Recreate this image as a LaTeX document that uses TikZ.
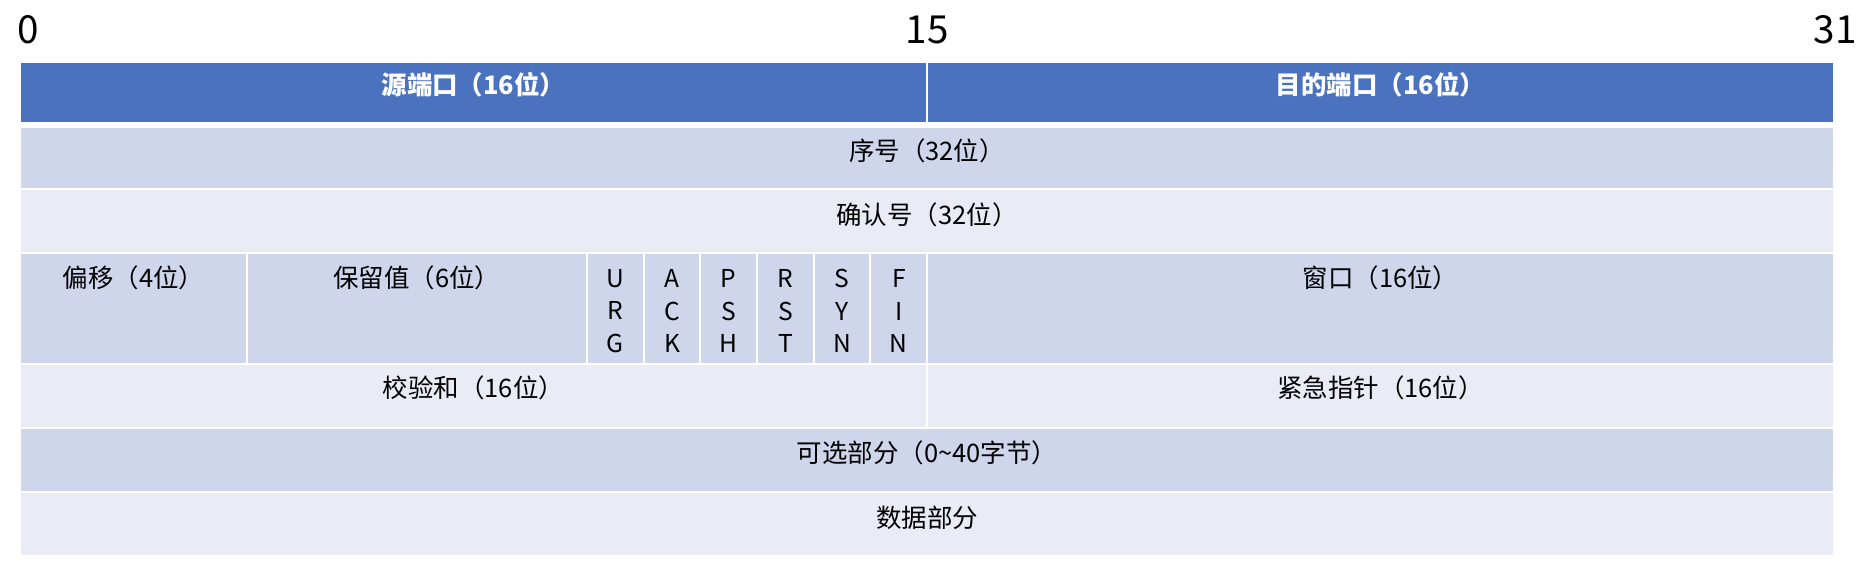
\documentclass[tikz,border=0pt]{standalone}
\usepackage{fontspec}
\newfontfamily\cjk{Noto Sans CJK SC}
\definecolor{hdrblue}{HTML}{4A72BE}
\definecolor{banddark}{HTML}{CFD5EA}
\definecolor{bandlight}{HTML}{E9EBF5}

\begin{document}
\begin{tikzpicture}[
    x=0.02cm, y=-0.02cm,
    cell/.style={draw=white, line width=0.04cm},
    hdrcell/.style={cell, fill=hdrblue},
    darkcell/.style={cell, fill=banddark},
    lightcell/.style={cell, fill=bandlight},
    field/.style={font=\cjk\fontsize{14.5}{17}\selectfont, inner sep=0pt},
    hdrfield/.style={field, text=white, font=\cjk\bfseries\fontsize{14.5}{17}\selectfont},
    flag/.style={field, align=center, font=\cjk\fontsize{14}{18.5}\selectfont},
    bitno/.style={font=\cjk\fontsize{22}{26}\selectfont, inner sep=0pt}
]
    \useasboundingbox (0,0) rectangle (1866,584);

    % bit numbers
    \node[bitno, anchor=west] (b0) at (17,30) {0};
    \node[bitno] (b15) at (927,30) {15};
    \node[bitno, anchor=east] (b31) at (1857,30) {31};

    % header row
    \path[hdrcell] (20,62) rectangle (927,125);
    \path[hdrcell] (927,62) rectangle (1834,125);
    % full-width rows
    \path[darkcell] (20,125) rectangle (1834,189);
    \path[lightcell] (20,189) rectangle (1834,253);
    % offset, reserved, flags, window
    \path[darkcell] (20,253) rectangle (246.75,364);
    \path[darkcell] (246.75,253) rectangle (587,364);
    \foreach \i in {0,...,5}
        \path[darkcell] (587+\i*56.69,253) rectangle (587+\i*56.69+56.69,364);
    \path[darkcell] (927,253) rectangle (1834,364);
    % checksum, urgent pointer
    \path[lightcell] (20,364) rectangle (927,428);
    \path[lightcell] (927,364) rectangle (1834,428);
    \path[darkcell] (20,428) rectangle (1834,492);
    \path[lightcell] (20,492) rectangle (1834,556);
    \draw[white, line width=0.12cm] (20,125) -- (1834,125);

    % labels
    \node[hdrfield] (src) at (473.5,85) {源端口（16位）};
    \node[hdrfield] (dst) at (1380.5,85) {目的端口（16位）};
    \node[field] (seq) at (927,151) {序号（32位）};
    \node[field] (ack) at (927,215) {确认号（32位）};
    \node[field] (off) at (133.4,278) {偏移（4位）};
    \node[field] (rsv) at (416.9,278) {保留值（6位）};
    \foreach \lbl/\nm [count=\i from 0] in {{U\\R\\G}/urg, {A\\C\\K}/ackf, {P\\S\\H}/psh, {R\\S\\T}/rst, {S\\Y\\N}/syn, {F\\I\\N}/fin}
        \node[flag] (\nm) at (587+\i*56.69+28.35,311) {\lbl};
    \node[field] (win) at (1380.5,278) {窗口（16位）};
    \node[field] (chk) at (473.5,388) {校验和（16位）};
    \node[field] (urp) at (1380.5,388) {紧急指针（16位）};
    \node[field] (opt) at (927,453) {可选部分（0\textasciitilde 40字节）};
    \node[field] (data) at (927,518) {数据部分};
\end{tikzpicture}
\end{document}
